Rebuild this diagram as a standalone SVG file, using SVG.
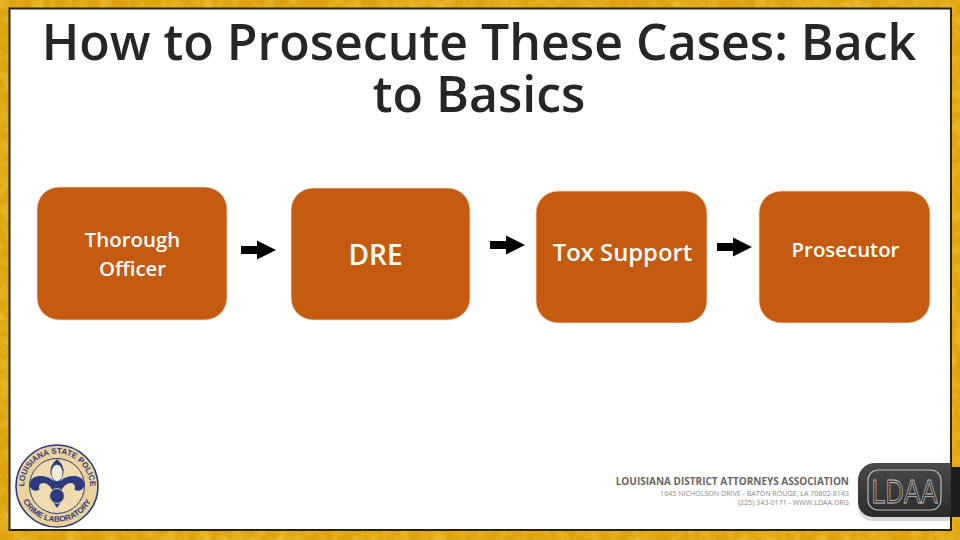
<svg xmlns="http://www.w3.org/2000/svg" width="960" height="540" viewBox="0 0 960 540">
<defs>
<filter id="mottle" x="0" y="0" width="100%" height="100%"><feTurbulence type="fractalNoise" baseFrequency=".09" numOctaves="3" seed="4"/><feColorMatrix values="0 0 0 0 .95  0 0 0 0 .72  0 0 0 0 .12  1.6 0 0 0 -.55"/></filter>
<linearGradient id="badge" x1="0" y1="0" x2="0" y2="1"><stop offset="0" stop-color="#4a4a4a"/><stop offset="1" stop-color="#2b2b2b"/></linearGradient>
<polygon id="arrow" points="0,-4 16,-4 16,-9.5 35,0 16,9.5 16,4 0,4" fill="#000"/>
</defs>
<style>
.box{fill:#c55a11;stroke:#f4d9c0;stroke-width:.8}
.lbl{font-family:"Open Sans","Noto Sans",sans-serif;font-weight:600;fill:#fff;text-anchor:middle}
.title{font-family:"Open Sans","Noto Sans",sans-serif;font-weight:600;font-size:50px;fill:#262626;text-anchor:middle}
.la{font-family:"Open Sans","Noto Sans",sans-serif;text-anchor:end}
.seal{font-family:"Liberation Sans",sans-serif;font-weight:700;font-size:8px;fill:#2d3a80}
</style>
<rect width="960" height="540" fill="#dea20c"/>
<rect width="960" height="540" filter="url(#mottle)" opacity=".55"/>
<rect x="9.5" y="8.5" width="941.5" height="521.5" fill="#fff" stroke="#2a2213" stroke-width="2"/>
<g id="title">
<text class="title"><tspan x="479" y="60">How to Prosecute These Cases: Back</tspan><tspan x="479" y="112">to Basics</tspan></text>
</g>
<g id="connectors">
<use href="#arrow" x="241" y="250"/>
<use href="#arrow" x="490" y="245"/>
<use href="#arrow" x="717" y="247"/>
</g>
<g id="node-officer">
<rect class="box" x="37" y="187" width="190" height="133" rx="22"/>
<text class="lbl" font-size="20.4" x="132.500" y="247">Thorough</text>
<text class="lbl" font-size="20.4" x="132.500" y="276">Officer</text>
</g>
<g id="node-dre">
<rect class="box" x="291" y="188" width="179" height="132" rx="22"/>
<text class="lbl" font-size="28" x="375.500" y="265">DRE</text>
</g>
<g id="node-tox">
<rect class="box" x="536" y="191" width="171" height="132" rx="22"/>
<text class="lbl" font-size="23.800" x="622.500" y="261">Tox Support</text>
</g>
<g id="node-prosecutor">
<rect class="box" x="759" y="191" width="171" height="132" rx="22"/>
<text class="lbl" font-size="20.4" x="845.500" y="257">Prosecutor</text>
</g>
<g id="seal">
<circle cx="57" cy="486" r="41" fill="#e9d29c" stroke="#2d3a80" stroke-width="1.6"/>
<circle cx="57" cy="486" r="27.500" fill="#efdcae" stroke="#2d3a80" stroke-width="1"/>
<g transform="translate(57 484) scale(.92) translate(-57 -479)">
<path d="M57 452c-9 7-9 16-3 24-8-7-22-8-26 0-3 7 4 13 10 9-2-5 2-9 8-6 5 3 7 8 8 12l-5 2 8 12 8-12-5-2c1-4 3-9 8-12 6-3 10 1 8 6 6 4 13-2 10-9-4-8-18-7-26 0 6-8 6-17-3-24z" fill="#2d3a80"/>
<ellipse cx="57" cy="467" rx="6" ry="9" fill="#f1ead4"/>
<circle cx="57" cy="492" r="8" fill="#2d3a80" stroke="#e9d29c"/>
</g>
<path id="arcTop" d="M26 498A33 33 0 1 1 88 498" fill="none"/>
<path id="arcBot" d="M19.500 490A38 38 0 0 0 94.500 490" fill="none"/>
<text class="seal"><textPath href="#arcTop" startOffset="50%" text-anchor="middle">LOUISIANA STATE POLICE</textPath></text>
<text class="seal"><textPath href="#arcBot" startOffset="50%" text-anchor="middle">CRIME LABORATORY</textPath></text>
</g>
<g id="ldaa">
<text class="la" x="849" y="485" font-size="10" font-weight="700" fill="#666">LOUISIANA DISTRICT ATTORNEYS ASSOCIATION</text>
<text class="la" x="849" y="496" font-size="7.100" fill="#888">1645 NICHOLSON DRIVE - BATON ROUGE, LA 70802-8143</text>
<text class="la" x="849" y="505" font-size="7.100" fill="#888">(225) 343-0171 - WWW.LDAA.ORG</text>
<path d="M951 467h-76a17 17 0 0 0-17 17v20a14 14 0 0 0 14 14h79z" fill="#000" opacity=".15" transform="translate(0,3)"/>
<path d="M951 463h-76a17 17 0 0 0-17 17v22a15 15 0 0 0 15 15h78z" fill="url(#badge)"/>
<rect x="951" y="467" width="9" height="50" fill="#1c1c1c"/>
<rect x="868" y="470" width="73" height="40" rx="10" fill="none" stroke="#bbb" stroke-width="1.2"/>
<text x="904.500" y="503" font-family="Liberation Sans,sans-serif" font-size="34" fill="none" stroke="#c4c4c4" stroke-width=".8" text-anchor="middle" textLength="66" lengthAdjust="spacingAndGlyphs">LDAA</text>
</g>
</svg>
